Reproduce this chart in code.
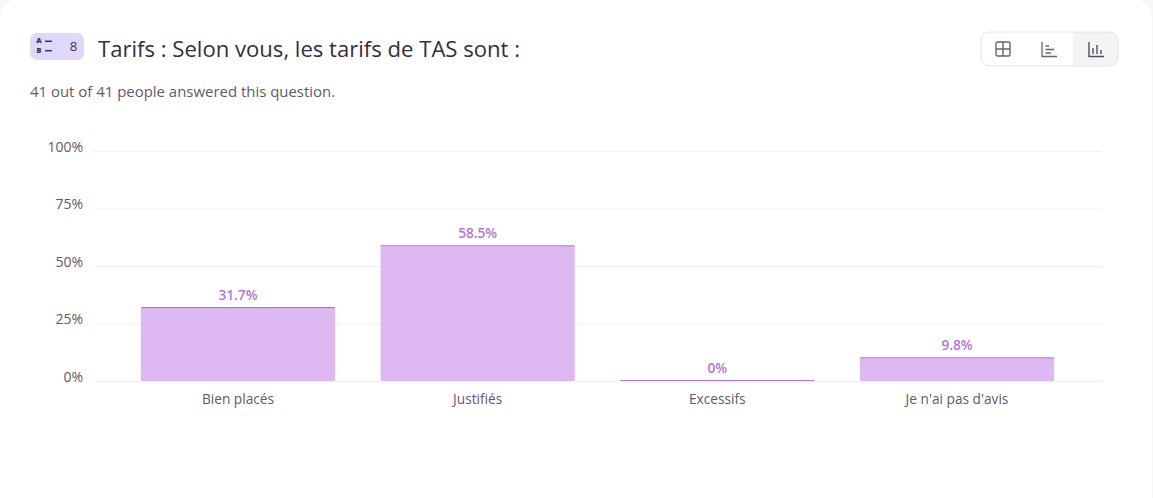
<!DOCTYPE html>
<html>
<head>
<meta charset="utf-8">
<script src="https://cdn.jsdelivr.net/npm/d3@7"></script>
<style>
  html, body { margin: 0; padding: 0; background: #f6f6f7; overflow: hidden; }
  text { font-family: "Open Sans", "Noto Sans", sans-serif; }
</style>
</head>
<body>
<div id="chart"></div>
<script>
const categories = ['Bien placés', 'Justifiés', 'Excessifs', "Je n'ai pas d'avis"]
const percents = [31.7, 58.5, 0, 9.8]
const yTicks = [0, 25, 50, 75, 100]

const title = 'Tarifs : Selon vous, les tarifs de TAS sont :'
const subtitle = '41 out of 41 people answered this question.'

const width = 1153
const height = 498

const svg = d3
  .select('#chart')
  .append('svg')
  .attr('width', width)
  .attr('height', height)
  .style('display', 'block')

// white card, its corners show at the window edge
svg
  .append('rect')
  .attr('x', 0)
  .attr('y', 0)
  .attr('width', 1152)
  .attr('height', 520)
  .attr('rx', 16)
  .attr('fill', '#fff')

// question type badge
const badge = svg.append('g').attr('transform', 'translate(30,33)')
badge
  .append('rect')
  .attr('width', 54)
  .attr('height', 27)
  .attr('rx', 7)
  .attr('fill', '#e0d8fc')
badge
  .append('text')
  .text('A')
  .attr('x', 9)
  .attr('y', 10.4)
  .attr('text-anchor', 'middle')
  .attr('font-size', 7.3)
  .attr('font-weight', 800)
  .attr('fill', '#3c3350')
badge
  .append('text')
  .text('B')
  .attr('x', 9)
  .attr('y', 20.4)
  .attr('text-anchor', 'middle')
  .attr('font-size', 7.3)
  .attr('font-weight', 800)
  .attr('fill', '#3c3350')
badge
  .selectAll('line')
  .data([8.3, 17.7])
  .enter()
  .append('line')
  .attr('x1', 15)
  .attr('x2', 22)
  .attr('y1', d => d)
  .attr('y2', d => d)
  .attr('stroke', '#3c3350')
  .attr('stroke-width', 1.5)
badge
  .append('text')
  .text('8')
  .attr('x', 43.5)
  .attr('y', 17.8)
  .attr('text-anchor', 'middle')
  .attr('font-size', 13.2)
  .attr('font-weight', 500)
  .attr('fill', '#3c3350')

svg
  .append('text')
  .text(title)
  .attr('x', 98)
  .attr('y', 56.5)
  .attr('font-size', 22.1)
  .attr('fill', '#362d3e')

svg
  .append('text')
  .text(subtitle)
  .attr('x', 30)
  .attr('y', 96.5)
  .attr('font-size', 14.95)
  .attr('fill', '#5f5a66')

// view switcher, top right
svg
  .append('clipPath')
  .attr('id', 'switch-clip')
  .append('rect')
  .attr('x', 981)
  .attr('y', 32)
  .attr('width', 137)
  .attr('height', 34)
  .attr('rx', 9)
svg
  .append('rect')
  .attr('x', 1073)
  .attr('y', 32)
  .attr('width', 46)
  .attr('height', 34)
  .attr('fill', '#f4f4f5')
  .attr('clip-path', 'url(#switch-clip)')

const switcher = svg.append('g').attr('transform', 'translate(981,32)')
switcher
  .append('rect')
  .attr('width', 137)
  .attr('height', 34)
  .attr('rx', 9)
  .attr('fill', 'none')
  .attr('stroke', '#e3e2e5')

const iconColor = '#6a6270'
const gridIcon = switcher.append('g').attr('transform', 'translate(15,10)')
gridIcon
  .append('rect')
  .attr('width', 14)
  .attr('height', 14)
  .attr('rx', 1.5)
  .attr('fill', 'none')
  .attr('stroke', iconColor)
  .attr('stroke-width', 1.4)
gridIcon
  .append('path')
  .attr('d', 'M7 0V14M0 7H14')
  .attr('stroke', iconColor)
  .attr('stroke-width', 1.4)
switcher
  .append('path')
  .attr('transform', 'translate(61,10)')
  .attr('d', 'M0 0V14.5H15M3.5 4H7M3.5 7.5H12M3.5 11H9')
  .attr('fill', 'none')
  .attr('stroke', iconColor)
  .attr('stroke-width', 1.3)
switcher
  .append('path')
  .attr('transform', 'translate(108,10)')
  .attr('d', 'M0 0V14.5H15M4 12V6M8 12V3M12 12V8')
  .attr('fill', 'none')
  .attr('stroke', '#5a4a60')
  .attr('stroke-width', 1.4)

// chart
const xPositionScale = d3
  .scaleBand()
  .domain(categories)
  .range([93, 1102])
  .paddingInner(0.19)
  .paddingOuter(0.2)

const yPositionScale = d3
  .scaleLinear()
  .domain([0, 100])
  .range([381, 151])

const yAxis = d3
  .axisLeft(yPositionScale)
  .tickValues(yTicks)
  .tickFormat(d => d + '%')
  .tickSize(-1009)
  .tickPadding(10)

svg
  .append('g')
  .attr('class', 'axis y-axis')
  .attr('transform', 'translate(93,0)')
  .call(yAxis)
  .call(g => g.select('.domain').remove())
  .call(g => g.selectAll('line').attr('stroke', '#f1f1f3'))
  .call(g =>
    g
      .selectAll('text')
      .attr('dy', '0')
      .attr('y', 0)
      .attr('font-size', 14)
      .attr('fill', '#5f5a66')
  )

const xAxis = d3
  .axisBottom(xPositionScale)
  .tickSize(0)
  .tickPadding(13.5)

svg
  .append('g')
  .attr('class', 'axis x-axis')
  .attr('transform', 'translate(0,381)')
  .call(xAxis)
  .call(g => g.select('.domain').remove())
  .call(g =>
    g
      .selectAll('text')
      .attr('font-size', 13.7)
      .attr('fill', '#5f5a66')
  )

const bars = svg
  .selectAll('.bar')
  .data(percents)
  .enter()
  .append('g')
  .attr('class', 'bar')

bars
  .append('rect')
  .attr('x', (d, i) => xPositionScale(categories[i]))
  .attr('y', d => yPositionScale(d))
  .attr('width', xPositionScale.bandwidth())
  .attr('height', d => yPositionScale(0) - yPositionScale(d))
  .attr('fill', '#ddb8f2')

// darker cap on top of each bar
bars
  .append('line')
  .attr('x1', (d, i) => xPositionScale(categories[i]))
  .attr('x2', (d, i) => xPositionScale(categories[i]) + xPositionScale.bandwidth())
  .attr('y1', d => yPositionScale(d) - 0.5)
  .attr('y2', d => yPositionScale(d) - 0.5)
  .attr('stroke', '#bd6fe0')
  .attr('stroke-width', 1.2)

bars
  .append('text')
  .text(d => d + '%')
  .attr('x', (d, i) => xPositionScale(categories[i]) + xPositionScale.bandwidth() / 2)
  .attr('y', d => yPositionScale(d) - 8)
  .attr('text-anchor', 'middle')
  .attr('font-size', 13.7)
  .attr('font-weight', 600)
  .attr('fill', '#b673d8')
</script>
</body>
</html>
